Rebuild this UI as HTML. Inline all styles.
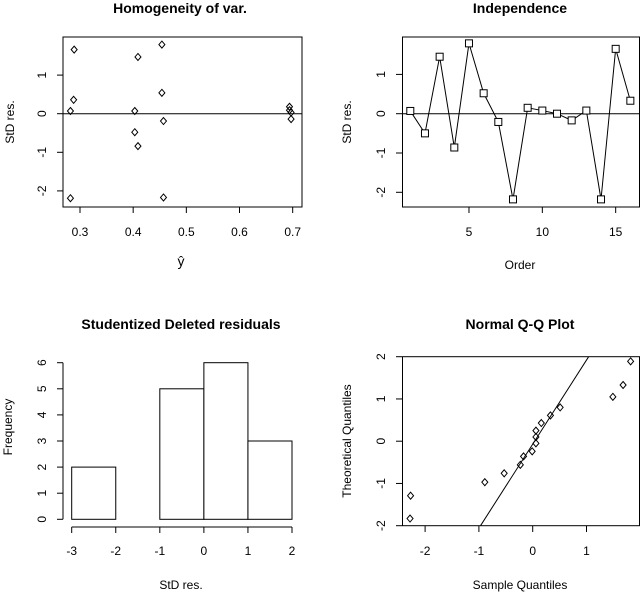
<!DOCTYPE html>
<html><head><meta charset="utf-8"><style>
body{margin:0;background:#fff}
svg{display:block;font-family:"Liberation Sans",Arial,sans-serif}
</style></head><body>
<svg id="s" width="640" height="592"></svg>
<script>
// Panel 1: homogeneity
const fittedX=[0.289,0.454,0.409,0.288,0.454,0.282,0.403,0.694,0.694,0.697,0.697,0.457,0.403,0.409,0.282,0.457];
const fittedRes=[1.66,1.79,1.47,0.36,0.54,0.07,0.07,0.18,0.09,0.03,-0.14,-0.19,-0.48,-0.84,-2.19,-2.17];
// Panel 2: independence
const orderRes=[0.07,-0.50,1.45,-0.86,1.79,0.52,-0.21,-2.18,0.15,0.08,0.0,-0.17,0.08,-2.18,1.65,0.33];
// Panel 3: histogram
const binEdges=[-3,-2,-1,0,1,2];
const binCounts=[2,0,5,6,3];
// Panel 4: QQ
const qqSample=[-2.28,-2.27,-0.89,-0.53,-0.23,-0.17,-0.01,0.06,0.06,0.06,0.16,0.33,0.51,1.49,1.68,1.82];
const qqTheor=[-1.83,-1.29,-0.97,-0.76,-0.56,-0.36,-0.24,-0.05,0.10,0.25,0.43,0.61,0.80,1.05,1.33,1.89];
const qqLine=[1.99,-0.07];
const ticks1X=[0.3,0.4,0.5,0.6,0.7];
const ticksRes=[-2,-1,0,1];
const ticks2X=[5,10,15];
const ticks3Y=[0,1,2,3,4,5,6];
const ticks4X=[-2,-1,0,1];
const ticks4Y=[-2,-1,0,1,2];

const S=document.getElementById('s');const NS='http://www.w3.org/2000/svg';
function el(t,a,txt){const e=document.createElementNS(NS,t);for(const k in a)e.setAttribute(k,a[k]);if(txt!==undefined)e.textContent=txt;S.appendChild(e);return e;}
function line(x1,y1,x2,y2,w){return el('line',{x1,y1,x2,y2,stroke:'#000','stroke-width':w||1});}
function text(x,y,s,o){const a={x,y,'font-size':o&&o.fs||12,'text-anchor':'middle',fill:'#000'};if(o&&o.bold)a['font-weight']='bold';if(o&&o.rot)a.transform=`rotate(-90 ${x} ${y})`;return el('text',a,s);}
function diamond(x,y){return el('path',{d:`M${x} ${y-3.5}L${x+3} ${y}L${x} ${y+3.5}L${x-3} ${y}Z`,fill:'none',stroke:'#000','stroke-width':1});}

// Panel 1
const x1=v=>80+(v-0.3)*531.7, yR1=v=>113.7-v*38.6;
let r=el('rect',{x:63,y:37,width:239,height:170,fill:'none',stroke:'#000'});

let t=text(180,13,'Homogeneity of var.',{fs:14,bold:1});
ticks1X.forEach(v=>{line(x1(v),207,x1(v),213);let l=text(x1(v),236,String(v));});
ticksRes.forEach(v=>{line(57,yR1(v),63,yR1(v));let l=text(46,yR1(v),String(v),{rot:1});});
t=text(14,122,'StD res.',{rot:1});
t=text(181,266,'ŷ',{fs:14});
line(63,yR1(0),302,yR1(0));
fittedX.forEach((v,i)=>{let p=diamond(x1(v),yR1(fittedRes[i]));});

// Panel 2
const x2=v=>410.3+(v-1)*14.67, yR2=v=>113.7-v*39.3;
r=el('rect',{x:402.5,y:37,width:237,height:170,fill:'none',stroke:'#000'});

t=text(520,13,'Independence',{fs:14,bold:1});
ticks2X.forEach(v=>{line(x2(v),207,x2(v),213);let l=text(x2(v),236,String(v));});
ticksRes.forEach(v=>{line(396,yR2(v),402,yR2(v));let l=text(385,yR2(v),String(v),{rot:1});});
t=text(351,122,'StD res.',{rot:1});
t=text(520,269,'Order');
line(402,yR2(0),640,yR2(0));
let pl=el('polyline',{points:orderRes.map((v,i)=>x2(i+1)+','+yR2(v)).join(' '),fill:'none',stroke:'#000'});

orderRes.forEach((v,i)=>{let p=el('rect',{x:x2(i+1)-3.5,y:yR2(v)-3.5,width:7,height:7,fill:'#fff',stroke:'#000'});});

// Panel 3
const x3=v=>71.7+(v+3)*44.06, y3=v=>519.3-v*26.1;
t=text(181,329,'Studentized Deleted residuals',{fs:14,bold:1});
line(63,y3(0),63,y3(6));
ticks3Y.forEach(v=>{line(57,y3(v),63,y3(v));let l=text(46,y3(v),String(v),{rot:1});});
line(x3(-3),527,x3(2),527);
binEdges.forEach(v=>{line(x3(v),527,x3(v),533);let l=text(x3(v),555,String(v));});
t=text(12,427,'Frequency',{rot:1});
t=text(181,589,'StD res.');
binCounts.forEach((c,i)=>{let b=el('rect',{x:x3(binEdges[i]),y:y3(c),width:x3(binEdges[i+1])-x3(binEdges[i]),height:y3(0)-y3(c),fill:'#fff',stroke:'#000'});});

// Panel 4
const x4=v=>532.7+v*53.8, y4=v=>441.2-v*42.25;
r=el('rect',{x:402.5,y:356.7,width:237,height:169,fill:'none',stroke:'#000'});

t=text(520,329,'Normal Q-Q Plot',{fs:14,bold:1});
ticks4X.forEach(v=>{line(x4(v),526,x4(v),532);let l=text(x4(v),555,String(v));});
ticks4Y.forEach(v=>{line(396,y4(v),402,y4(v));let l=text(385,y4(v),String(v),{rot:1});});
t=text(351,441,'Theoretical Quantiles',{rot:1});
t=text(520,589,'Sample Quantiles');
const xa=(-2-qqLine[1])/qqLine[0], xb=(2-qqLine[1])/qqLine[0];
let ql=line(x4(xa),y4(-2),x4(xb),y4(2));
qqSample.forEach((v,i)=>{let p=diamond(x4(v),y4(qqTheor[i]));});
</script>
</body></html>
